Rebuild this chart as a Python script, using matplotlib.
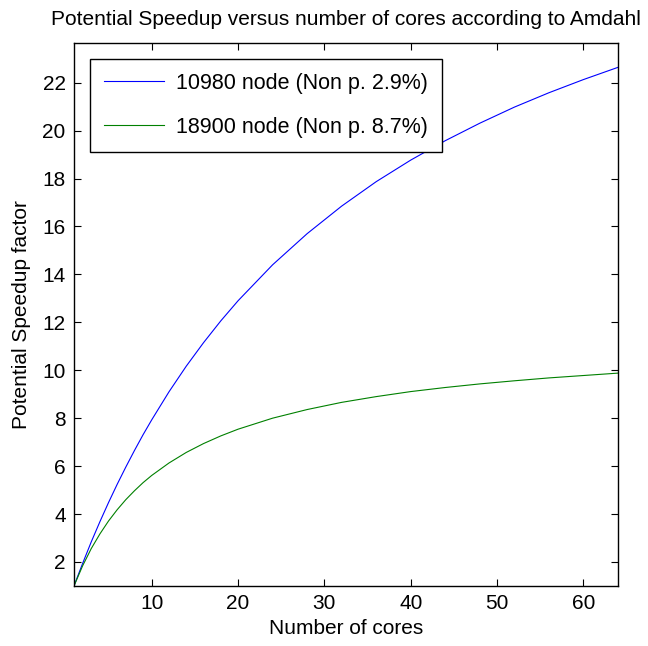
import matplotlib
matplotlib.use("Agg")
from matplotlib import pyplot as plt

# values (speedup at a given number of cores)
cores = [1, 2, 3, 4, 5, 6, 7, 8, 9, 10, 12, 14, 16, 18, 20, 24, 28, 32, 36, 40, 44, 48, 52, 56, 60, 64]
speedup_10980 = [1.00, 1.94, 2.84, 3.68, 4.48, 5.24, 5.96, 6.65, 7.31, 7.93, 9.10, 10.17, 11.15, 12.06,
                 12.90, 14.40, 15.70, 16.85, 17.87, 18.77, 19.58, 20.31, 20.98, 21.58, 22.13, 22.64]
speedup_18900 = [1.00, 1.84, 2.56, 3.17, 3.71, 4.18, 4.60, 4.97, 5.31, 5.61, 6.13, 6.57, 6.94, 7.26,
                 7.54, 8.00, 8.36, 8.66, 8.90, 9.11, 9.28, 9.43, 9.56, 9.68, 9.78, 9.88]
labels = ['10980 node (Non p. 2.9%)', '18900 node (Non p. 8.7%)']
x_ticks = [10, 20, 30, 40, 50, 60]
y_ticks = [2, 4, 6, 8, 10, 12, 14, 16, 18, 20, 22]

plt.rcParams['font.family'] = ['Liberation Sans', 'DejaVu Sans']
fs = 15

fig = plt.figure(figsize=(6.48, 6.46), dpi=100)
ax = fig.add_axes([0.1142, 0.093, 0.8395, 0.8406])

ax.plot(cores, speedup_10980, color=(0, 0, 1), linewidth=0.8, label=labels[0])
ax.plot(cores, speedup_18900, color=(0, 0.5, 0), linewidth=0.8, label=labels[1])

ax.set_xlim(1, 64)
ax.set_ylim(1, 23.66)
ax.set_xticks(x_ticks)
ax.set_yticks(y_ticks)
ax.tick_params(direction='in', top=True, right=True, length=5, width=0.8, labelsize=fs, pad=6)
for s in ax.spines.values():
    s.set_linewidth(1.0)

ax.set_xlabel('Number of cores', fontsize=fs, labelpad=4)
ax.set_ylabel('Potential Speedup factor', fontsize=fs, labelpad=8)
ax.set_title('Potential Speedup versus number of cores according to Amdahl', fontsize=fs, pad=13)

leg = ax.legend(loc='upper left', bbox_to_anchor=(0.0294, 0.9705), fancybox=False, framealpha=1,
                edgecolor='black', fontsize=15.5, handlelength=2.8, handletextpad=0.55, borderpad=0.65,
                labelspacing=1.05, borderaxespad=0)
leg.get_frame().set_linewidth(1.0)

plt.savefig('out.png', dpi=100)
plt.close()
